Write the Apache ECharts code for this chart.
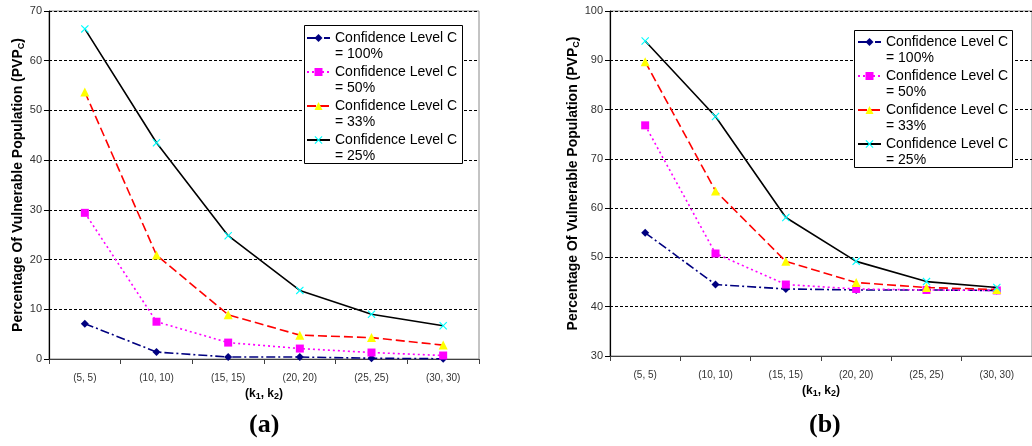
<!DOCTYPE html>
<html>
<head>
<meta charset="utf-8">
<script src="https://cdn.jsdelivr.net/npm/echarts@6/dist/echarts.min.js"></script>
<style>
  html, body { margin: 0; padding: 0; background: #fff; }
  #chart { width: 1032px; height: 446px; }
</style>
</head>
<body>
<div id="chart"></div>
<script>
// (k1, k2) settings on the x axis
const categories = ['(5, 5)', '(10, 10)', '(15, 15)', '(20, 20)', '(25, 25)', '(30, 30)'];
const seriesNames = [
  'Confidence Level C\n= 100%',
  'Confidence Level C\n= 50%',
  'Confidence Level C\n= 33%',
  'Confidence Level C\n= 25%'
];

// Panel (a): PVP_C in percent
const a100 = [7.1, 1.4, 0.4, 0.4, 0.15, 0.05];
const a50  = [29.4, 7.5, 3.3, 2.1, 1.3, 0.7];
const a33  = [53.7, 20.9, 8.9, 4.8, 4.3, 2.8];
const a25  = [66.4, 43.5, 24.8, 13.8, 9.0, 6.7];

// Panel (b): PVP_C in percent
const b100 = [55.0, 44.5, 43.6, 43.4, 43.4, 43.3];
const b50  = [76.8, 50.8, 44.5, 43.6, 43.4, 43.3];
const b33  = [89.7, 63.5, 49.2, 44.9, 43.9, 43.5];
const b25  = [93.9, 78.6, 58.1, 49.2, 45.1, 43.9];

const FONT = '"Liberation Sans", Arial, sans-serif';
const CROSS = 'path://M0,1L1,0L5,4L9,0L10,1L6,5L10,9L9,10L5,6L1,10L0,9L4,5Z';

const looks = [
  { line: '#000080', fill: '#000080', dash: [9, 3, 2, 3], symbol: 'diamond',  size: 8 },
  { line: '#FF00FF', fill: '#FF00FF', dash: [2, 3],       symbol: 'rect',     size: 8 },
  { line: '#FF0000', fill: '#FFFF00', dash: [9, 4],       symbol: 'triangle', size: 9 },
  { line: '#000000', fill: '#00FFFF', dash: 'solid',      symbol: CROSS,      size: 8 }
];

function makeSeries(values, i, panel) {
  const s = looks[i];
  return {
    name: seriesNames[i],
    type: 'line',
    xAxisIndex: panel,
    yAxisIndex: panel,
    data: values,
    symbol: s.symbol,
    symbolSize: s.size,
    showSymbol: true,
    animation: false,
    z: 3 + i,
    itemStyle: { color: s.fill, borderWidth: 0 },
    lineStyle: { color: s.line, width: 1.6, type: s.dash }
  };
}

const sub = { fontSize: 9, fontWeight: 'bold', fontFamily: FONT, color: '#000', verticalAlign: 'bottom', padding: [6, 0, 0, 0] };

function xAxis(gridIndex) {
  return {
    type: 'category',
    gridIndex,
    data: categories,
    boundaryGap: true,
    name: '(k{s|1}, k{s|2})',
    nameLocation: 'middle',
    nameGap: 26,
    nameTextStyle: { fontSize: 12, fontWeight: 'bold', fontFamily: FONT, color: '#000', rich: { s: sub } },
    axisLine: { show: true, lineStyle: { color: '#404040', width: 1 } },
    axisTick: { show: true, inside: false, length: 5, alignWithLabel: false, lineStyle: { color: '#404040' } },
    axisLabel: { fontSize: 10, fontFamily: FONT, color: '#333', margin: 14 },
    splitLine: { show: false }
  };
}

function yAxis(gridIndex, min, max, gap) {
  return {
    type: 'value',
    gridIndex,
    min, max, interval: 10,
    name: 'Percentage Of Vulnerable Population (PVP{s|C})',
    nameLocation: 'middle',
    nameRotate: 90,
    nameGap: gap,
    nameTextStyle: { fontSize: 14, fontWeight: 'bold', fontFamily: FONT, color: '#000', rich: { s: sub } },
    axisLine: { show: true, lineStyle: { color: '#000', width: 1.2 } },
    axisTick: { show: true, inside: false, length: 5, lineStyle: { color: '#000' } },
    axisLabel: { fontSize: 11, fontFamily: FONT, color: '#333', margin: 7 },
    splitLine: { show: true, lineStyle: { color: '#000', width: 1, type: [3, 2] } }
  };
}

// Each entry gets a leading empty line so the key sits beside the first text line
function legend(left, top) {
  return {
    orient: 'vertical',
    left, top,
    z: 30,
    padding: 0,
    itemWidth: 23,
    itemHeight: 10,
    itemGap: -14,
    data: seriesNames,
    formatter: (name) => '\n' + name,
    textStyle: { fontSize: 14, fontFamily: FONT, color: '#000', lineHeight: 16 },
    selectedMode: false
  };
}

const chart = echarts.init(document.getElementById('chart'), null, { renderer: 'canvas' });
chart.setOption({
  backgroundColor: '#fff',
  animation: false,
  grid: [
    { left: 49, top: 11, width: 430, height: 348, show: true, borderColor: '#888', borderWidth: 1, backgroundColor: 'transparent' },
    { left: 610, top: 11, width: 424, height: 345, show: true, borderColor: '#888', borderWidth: 1, backgroundColor: 'transparent' }
  ],
  xAxis: [xAxis(0), xAxis(1)],
  yAxis: [yAxis(0, 0, 70, 22), yAxis(1, 30, 100, 29)],
  legend: [legend(306, 14), legend(857, 18)],
  graphic: [
    { type: 'rect', shape: { x: 304.5, y: 25.5, width: 158, height: 138 }, style: { fill: '#fff', stroke: '#000', lineWidth: 1 }, z: 20 },
    { type: 'rect', shape: { x: 854.5, y: 30.5, width: 158, height: 137 }, style: { fill: '#fff', stroke: '#000', lineWidth: 1 }, z: 20 },
    { type: 'text', left: 249, top: 412, style: { text: '(a)', font: 'bold 26px "Liberation Serif", "DejaVu Serif", serif', fill: '#000' } },
    { type: 'text', left: 809, top: 412, style: { text: '(b)', font: 'bold 26px "Liberation Serif", "DejaVu Serif", serif', fill: '#000' } }
  ],
  series: [
    makeSeries(a100, 0, 0), makeSeries(a50, 1, 0), makeSeries(a33, 2, 0), makeSeries(a25, 3, 0),
    makeSeries(b100, 0, 1), makeSeries(b50, 1, 1), makeSeries(b33, 2, 1), makeSeries(b25, 3, 1)
  ]
});
</script>
</body>
</html>
